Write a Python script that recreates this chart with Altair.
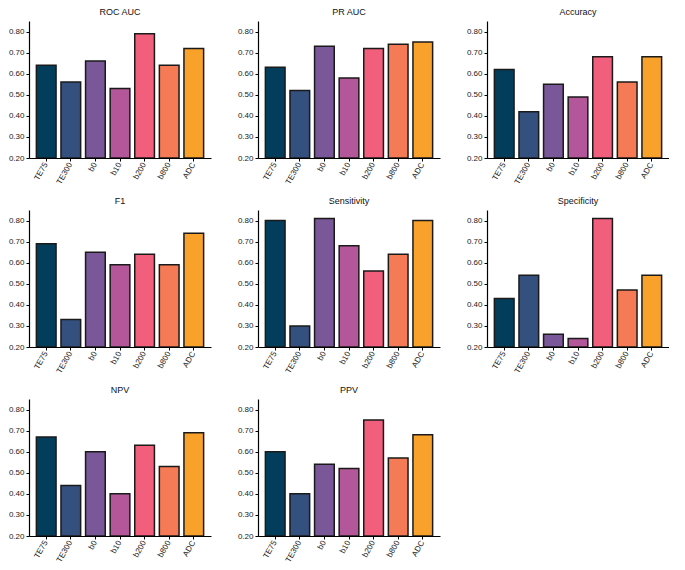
"""
모델별 분류 성능 지표 막대 차트 (3열 그리드)
"""
import pandas as pd
import altair as alt

# ==================== 데이터 ====================
MODELS = ["TE75", "TE300", "b0", "b10", "b200", "b800", "ADC"]
MODEL_COLORS = ["#023e5b", "#34507f", "#7a5799", "#b4579a", "#f25f7c", "#f47b55", "#f8a22c"]

METRICS = ["ROC AUC", "PR AUC", "Accuracy", "F1", "Sensitivity", "Specificity", "NPV", "PPV"]

roc_auc = [0.64, 0.56, 0.66, 0.53, 0.79, 0.64, 0.72]
pr_auc = [0.63, 0.52, 0.73, 0.58, 0.72, 0.74, 0.75]
accuracy = [0.62, 0.42, 0.55, 0.49, 0.68, 0.56, 0.68]
f1 = [0.69, 0.33, 0.65, 0.59, 0.64, 0.59, 0.74]
sensitivity = [0.80, 0.30, 0.81, 0.68, 0.56, 0.64, 0.80]
specificity = [0.43, 0.54, 0.26, 0.24, 0.81, 0.47, 0.54]
npv = [0.67, 0.44, 0.60, 0.40, 0.63, 0.53, 0.69]
ppv = [0.60, 0.40, 0.54, 0.52, 0.75, 0.57, 0.68]

SERIES = [roc_auc, pr_auc, accuracy, f1, sensitivity, specificity, npv, ppv]
Y_TICKS = [0.2, 0.3, 0.4, 0.5, 0.6, 0.7, 0.8]

# ==================== 상수 ====================
PANEL_WIDTH = 182
PANEL_HEIGHT = 137
FONT = "Liberation Sans"


def make_panel(metric, values):
    df = pd.DataFrame({"model": MODELS, "value": values})
    return alt.Chart(df).mark_bar(
        stroke="#1a1a1a", strokeWidth=1.5, clip=True
    ).encode(
        x=alt.X("model:N", sort=MODELS, title=None,
                scale=alt.Scale(paddingInner=0.2, paddingOuter=0.3),
                axis=alt.Axis(labelAngle=-60, tickSize=3)),
        y=alt.Y("value:Q", title=None,
                scale=alt.Scale(domain=[0.2, 0.85], zero=False, nice=False),
                axis=alt.Axis(values=Y_TICKS, format=".2f", tickSize=3)),
        y2=alt.datum(0.2),
        color=alt.Color("model:N", sort=MODELS,
                        scale=alt.Scale(domain=MODELS, range=MODEL_COLORS),
                        legend=None),
    ).properties(
        width=PANEL_WIDTH,
        height=PANEL_HEIGHT,
        title=alt.TitleParams(metric, fontSize=9, fontWeight="normal",
                              font=FONT, color="#111", offset=4),
    )


panels = [make_panel(m, v) for m, v in zip(METRICS, SERIES)]

chart = alt.concat(
    *panels, columns=3, spacing={"row": 11, "column": 26}
).properties(
    padding=0
).configure_view(
    stroke=None
).configure_title(
    fontWeight="normal",
    font=FONT,
    fontSize=9,
).configure_axis(
    grid=False,
    domainColor="#000",
    domainWidth=1.2,
    tickColor="#000",
    labelColor="#222",
    labelFont=FONT,
    labelFontSize=8,
    labelPadding=2,
)

chart.save("out.html", embed_options={"renderer": "svg", "actions": False})
